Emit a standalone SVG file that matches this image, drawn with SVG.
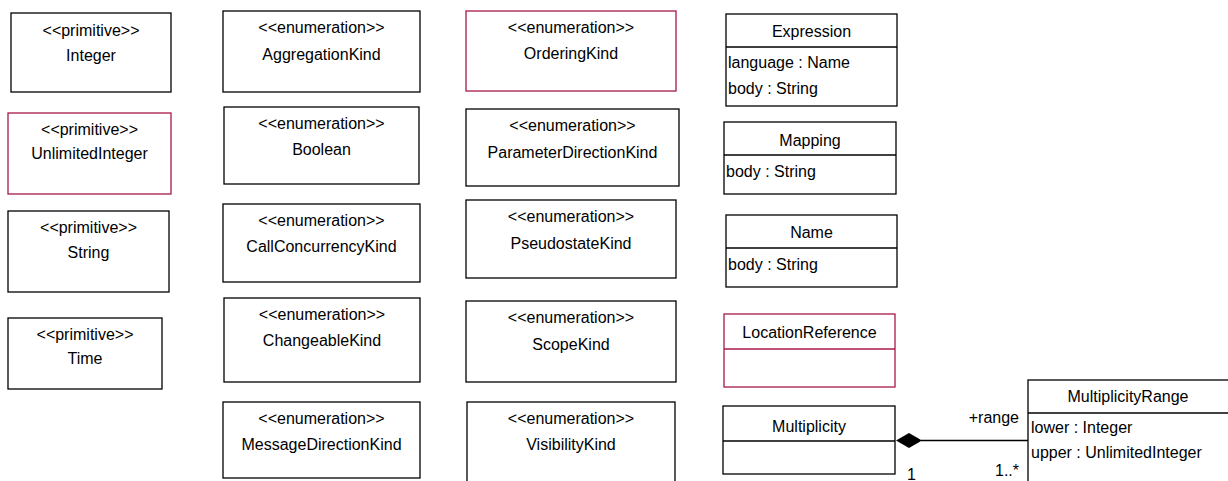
<svg xmlns="http://www.w3.org/2000/svg" width="1228" height="481" viewBox="0 0 1228 481">
<style>
rect{fill:#fff;stroke:#000;stroke-width:1.3}
.r{stroke:#a8194a}
line{stroke:#000;stroke-width:1.3}
line.r{stroke:#a8194a}
text{font-family:"Liberation Sans",Arial,sans-serif;font-size:16px;fill:#000}
.c{text-anchor:middle}
.e{text-anchor:end}
</style>
<rect x="0" y="0" width="1228" height="481" style="stroke:none"/>
<g id="Integer"><rect x="11" y="13" width="160" height="79"/><text class="c" x="91" y="36">&lt;&lt;primitive&gt;&gt;</text><text class="c" x="91" y="61">Integer</text></g>
<g id="UnlimitedInteger"><rect class="r" x="8" y="113" width="163" height="81"/><text class="c" x="89.5" y="135">&lt;&lt;primitive&gt;&gt;</text><text class="c" x="89.5" y="159">UnlimitedInteger</text></g>
<g id="String"><rect x="8" y="211" width="161" height="81"/><text class="c" x="88.5" y="233">&lt;&lt;primitive&gt;&gt;</text><text class="c" x="88.5" y="258">String</text></g>
<g id="Time"><rect x="8" y="318" width="154" height="71"/><text class="c" x="85" y="340">&lt;&lt;primitive&gt;&gt;</text><text class="c" x="85" y="364">Time</text></g>
<g id="AggregationKind"><rect x="223" y="11" width="197" height="81"/><text class="c" x="321.5" y="33">&lt;&lt;enumeration&gt;&gt;</text><text class="c" x="321.5" y="60">AggregationKind</text></g>
<g id="Boolean"><rect x="224" y="107" width="195" height="77"/><text class="c" x="321.5" y="129">&lt;&lt;enumeration&gt;&gt;</text><text class="c" x="321.5" y="155">Boolean</text></g>
<g id="CallConcurrencyKind"><rect x="223" y="204" width="197" height="78"/><text class="c" x="321.5" y="226">&lt;&lt;enumeration&gt;&gt;</text><text class="c" x="321.5" y="252">CallConcurrencyKind</text></g>
<g id="ChangeableKind"><rect x="224" y="298" width="196" height="84"/><text class="c" x="322" y="320">&lt;&lt;enumeration&gt;&gt;</text><text class="c" x="322" y="346">ChangeableKind</text></g>
<g id="MessageDirectionKind"><rect x="223" y="402" width="197" height="76"/><text class="c" x="321.5" y="424">&lt;&lt;enumeration&gt;&gt;</text><text class="c" x="321.5" y="450">MessageDirectionKind</text></g>
<g id="OrderingKind"><rect class="r" x="466" y="11" width="210" height="80"/><text class="c" x="571" y="33">&lt;&lt;enumeration&gt;&gt;</text><text class="c" x="571" y="59">OrderingKind</text></g>
<g id="ParameterDirectionKind"><rect x="466" y="109" width="213" height="77"/><text class="c" x="572.5" y="131">&lt;&lt;enumeration&gt;&gt;</text><text class="c" x="572.5" y="158">ParameterDirectionKind</text></g>
<g id="PseudostateKind"><rect x="466" y="200" width="210" height="78"/><text class="c" x="571" y="222">&lt;&lt;enumeration&gt;&gt;</text><text class="c" x="571" y="249">PseudostateKind</text></g>
<g id="ScopeKind"><rect x="466" y="301" width="210" height="81"/><text class="c" x="571" y="323">&lt;&lt;enumeration&gt;&gt;</text><text class="c" x="571" y="350">ScopeKind</text></g>
<g id="VisibilityKind"><rect x="467" y="402" width="208" height="90"/><text class="c" x="571" y="424">&lt;&lt;enumeration&gt;&gt;</text><text class="c" x="571" y="450">VisibilityKind</text></g>
<g id="Expression"><rect x="726" y="14" width="171" height="92"/><line x1="726" y1="47" x2="897" y2="47"/><text class="c" x="811.5" y="37">Expression</text><text x="728" y="68">language : Name</text><text x="728" y="94">body : String</text></g>
<g id="Mapping"><rect x="724" y="122" width="172" height="72"/><line x1="724" y1="155" x2="896" y2="155"/><text class="c" x="810" y="146">Mapping</text><text x="726" y="177">body : String</text></g>
<g id="Name"><rect x="726" y="215" width="171" height="72"/><line x1="726" y1="248" x2="897" y2="248"/><text class="c" x="811.5" y="238">Name</text><text x="728" y="270">body : String</text></g>
<g id="LocationReference"><rect class="r" x="724" y="314" width="171" height="73"/><line class="r" x1="724" y1="349" x2="895" y2="349"/><text class="c" x="809.5" y="338">LocationReference</text></g>
<g id="Multiplicity"><rect x="723" y="406" width="172" height="68"/><line x1="723" y1="441" x2="895" y2="441"/><text class="c" x="809" y="432">Multiplicity</text></g>
<g id="MultiplicityRange"><rect x="1028" y="380" width="210" height="120"/><line x1="1028" y1="413" x2="1228" y2="413"/><text class="c" x="1128" y="402">MultiplicityRange</text><text x="1031" y="433">lower : Integer</text><text x="1031" y="458">upper : UnlimitedInteger</text></g>
<g id="connectors">
<line x1="921" y1="440.5" x2="1028" y2="440.5"/>
<polygon points="896,440.5 909,433 922,440.5 909,448" fill="#000"/>
<text class="e" x="1019" y="423">+range</text>
<text class="e" x="1019" y="476">1..*</text>
<text x="907" y="480">1</text>
</g>
</svg>
